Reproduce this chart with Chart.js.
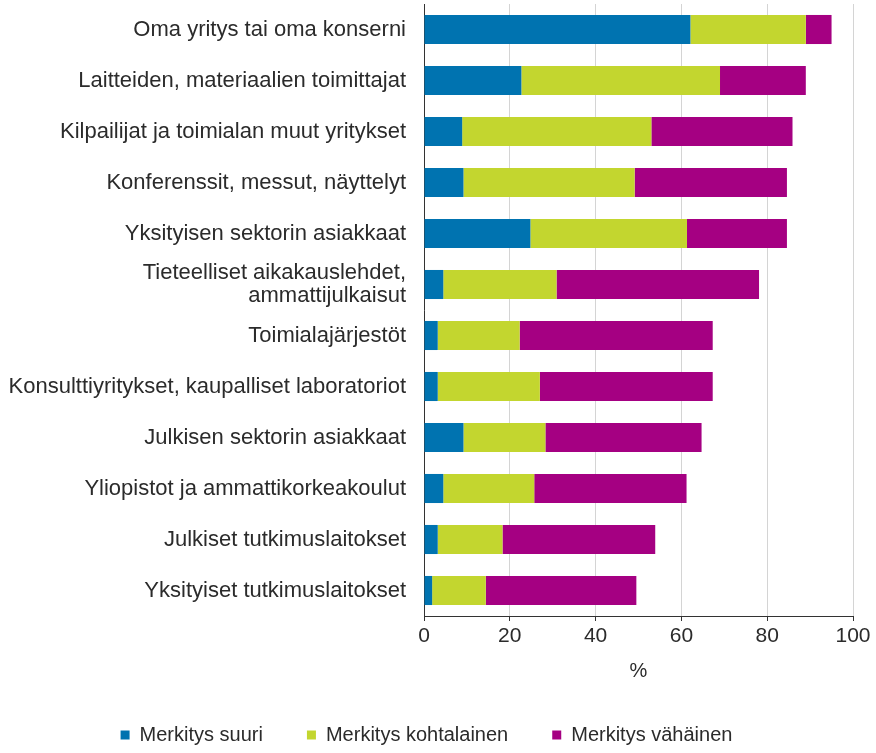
<!DOCTYPE html>
<html>
<head>
<meta charset="utf-8">
<script src="https://cdn.jsdelivr.net/npm/chart.js@4"></script>
<style>
  body { margin: 0; background: #fff; }
</style>
</head>
<body>
<canvas id="chart" width="876" height="753"></canvas>
<script>
// categories (top to bottom) and the three shares, in %
const categories = [
    'Oma yritys tai oma konserni',
    'Laitteiden, materiaalien toimittajat',
    'Kilpailijat ja toimialan muut yritykset',
    'Konferenssit, messut, näyttelyt',
    'Yksityisen sektorin asiakkaat',
    ['Tieteelliset aikakauslehdet,', 'ammattijulkaisut'],
    'Toimialajärjestöt',
    'Konsulttiyritykset, kaupalliset laboratoriot',
    'Julkisen sektorin asiakkaat',
    'Yliopistot ja ammattikorkeakoulut',
    'Julkiset tutkimuslaitokset',
    'Yksityiset tutkimuslaitokset'
];
const suuri       = [62.1, 22.7,  8.9,  9.2, 24.8,  4.5,  3.2,  3.2,  9.2,  4.5,  3.2,  1.9];
const kohtalainen = [26.9, 46.3, 44.1, 39.9, 36.5, 26.4, 19.1, 23.8, 19.1, 21.2, 15.1, 12.5];
const vahainen    = [ 6.0, 20.0, 32.9, 35.5, 23.3, 47.2, 45.0, 40.3, 36.4, 35.5, 35.6, 35.1];
const xTicks = [0, 20, 40, 60, 80, 100];

const font = 'Arial, "Liberation Sans", sans-serif';
const textColor = '#2b2b2b';

// legend sits a bit tighter than chart.js wants
const legendHeight = {
    id: 'legendHeight',
    afterInit(chart) {
        const lg = chart.legend;
        const fit = lg.fit;
        lg.fit = function () {
            fit.call(this);
            this.height = 72;
        };
    }
};

const ctx = document.getElementById('chart').getContext('2d');
const chart = new Chart(ctx, {
    type: 'bar',
    data: {
        labels: categories,
        datasets: [
            { label: 'Merkitys suuri', data: suuri, backgroundColor: '#0073b0' },
            { label: 'Merkitys kohtalainen', data: kohtalainen, backgroundColor: '#c3d62f' },
            { label: 'Merkitys vähäinen', data: vahainen, backgroundColor: '#a50082' }
        ]
    },
    options: {
        responsive: false,
        animation: false,
        indexAxis: 'y',
        datasets: {
            bar: { categoryPercentage: 0.57, barPercentage: 1 }
        },
        layout: {
            padding: { left: 0, right: 23, top: 4, bottom: 0 }
        },
        scales: {
            x: {
                stacked: true,
                min: 0,
                max: 100,
                afterBuildTicks: (scale) => {
                    scale.ticks = xTicks.map(v => ({ value: v }));
                },
                afterFit: (scale) => { scale.height = 65; },
                grid: { color: '#d4d4d4', tickColor: '#333', tickLength: 5 },
                border: { color: '#333', width: 1 },
                ticks: {
                    padding: 3,
                    color: textColor,
                    font: { family: font, size: 21 }
                },
                title: {
                    display: true,
                    text: '%',
                    color: textColor,
                    font: { family: font, size: 20, lineHeight: 1 },
                    padding: { top: 18, bottom: 0 }
                }
            },
            y: {
                stacked: true,
                afterFit: (scale) => {
                    scale.width = 424;
                    scale.paddingTop = 0;
                    scale.paddingBottom = 0;
                },
                grid: { display: false, drawTicks: false },
                border: { color: '#333', width: 1 },
                ticks: {
                    autoSkip: false,
                    padding: 18,
                    color: textColor,
                    font: { family: font, size: 22, lineHeight: 1.05 }
                }
            }
        },
        plugins: {
            legend: {
                position: 'bottom',
                labels: {
                    boxWidth: 9,
                    boxHeight: 9,
                    padding: 44,
                    color: textColor,
                    font: { family: font, size: 20 }
                }
            },
            tooltip: { enabled: false }
        }
    },
    plugins: [legendHeight]
});
</script>
</body>
</html>
